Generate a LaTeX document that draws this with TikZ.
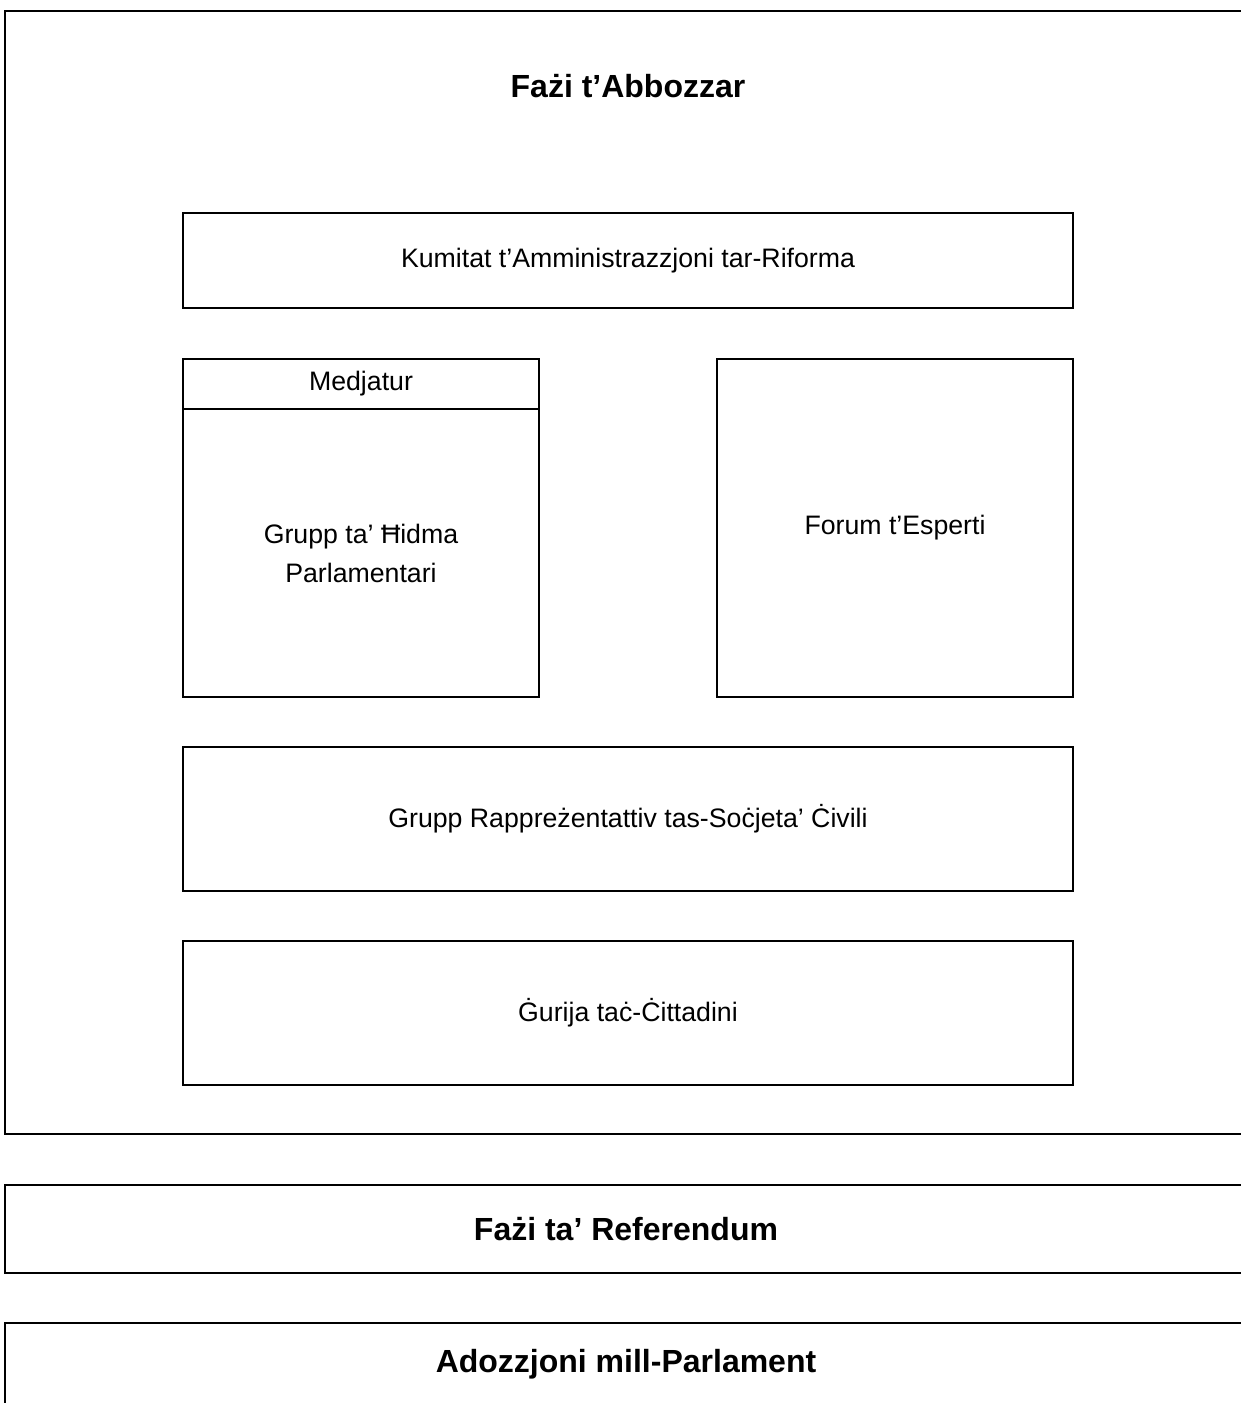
\documentclass[tikz,border=0pt]{standalone}
\usepackage{fontspec}
\setmainfont{Liberation Sans}
\begin{document}
\begin{tikzpicture}[x=0.5pt,y=-0.5pt,
  frame/.style={draw=black,line width=0.9pt,rectangle,inner sep=0pt,outer sep=0pt,minimum width=627.5pt},
  box/.style={draw=black,line width=0.65pt,rectangle,inner sep=0pt,outer sep=0pt,align=center,font=\fontsize{13.35}{19.5}\selectfont},
  title/.style={inner sep=0pt,font=\fontsize{16}{18}\selectfont\bfseries}]
\useasboundingbox (0,0) rectangle (1241,1403);
\clip (0,0) rectangle (1241,1403);
% outer frames
\node[frame,minimum height=561.5pt] (drafting) at (632.5,572.5) {};
\node[title] (draftingtitle) at (628,86) {Fażi t’Abbozzar};
\node[frame,minimum height=44pt] (referendum) at (632.5,1229) {};
\node[title] (referendumtitle) at (626,1229) {Fażi ta’ Referendum};
\node[frame,minimum height=43.5pt] (parliament) at (632.5,1366.5) {};
\node[title] (parliamenttitle) at (626,1364) {Adozzjoni mill-Parlament};
% inner boxes
\node[box,minimum width=445pt,minimum height=47.5pt] (kumitat) at (628,260.5) {Kumitat t’Amministrazzjoni tar-Riforma};
\node[box,minimum width=178pt,minimum height=25pt] (medjatur) at (361,384) {Medjatur};
\node[box,minimum width=178pt,minimum height=144pt] (hidma) at (361,553) {Grupp ta’ Ħidma\\Parlamentari};
\node[box,minimum width=178pt,minimum height=169pt] (forum) at (895,528) {Forum t’Esperti};
\node[box,minimum width=445pt,minimum height=72pt] (socjeta) at (628,819) {Grupp Rappreżentattiv tas-Soċjeta’ Ċivili};
\node[box,minimum width=445pt,minimum height=72pt] (gurija) at (628,1013) {Ġurija taċ-Ċittadini};
\end{tikzpicture}
\end{document}
